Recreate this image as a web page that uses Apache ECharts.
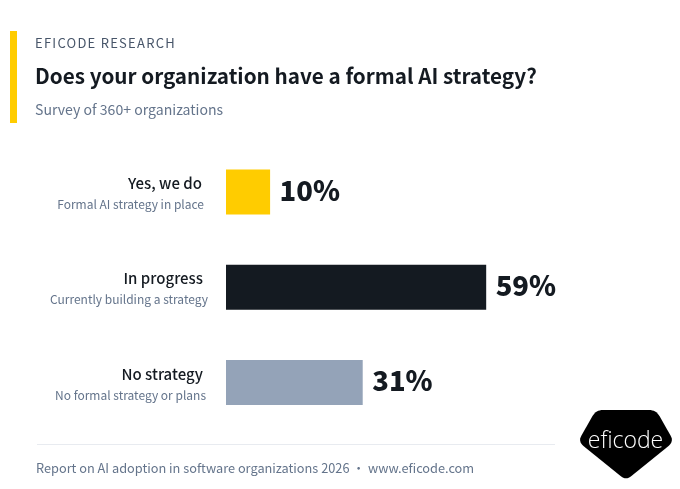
<!DOCTYPE html>
<html><head><meta charset="utf-8">
<style>html,body{margin:0;padding:0;background:#fff}#c{width:680px;height:489px}</style>
<script src="https://cdn.jsdelivr.net/npm/echarts@6/dist/echarts.min.js"></script>
</head><body><div id="c"></div>
<script>
const categories = ["Yes, we do", "In progress", "No strategy"];
const descriptions = ["Formal AI strategy in place", "Currently building a strategy", "No formal strategy or plans"];
const values = [10, 59, 31];
const barColors = ["#FFCC00", "#141A21", "#94A3B8"];
const eyebrow = "EFICODE RESEARCH";
const titleText = "Does your organization have a formal AI strategy?";
const subtitle = "Survey of 360+ organizations";
const footer = "Report on AI adoption in software organizations 2026 • www.eficode.com";
const logoText = "eficode";

// The eyebrow line is tracked out; the canvas context supports that natively.
const nativeFillText = CanvasRenderingContext2D.prototype.fillText;
CanvasRenderingContext2D.prototype.fillText = function (t, x, y, m) {
  const tracked = t === eyebrow;
  if (tracked) this.letterSpacing = '1.25px';
  const r = m === undefined ? nativeFillText.call(this, t, x, y) : nativeFillText.call(this, t, x, y, m);
  if (tracked) this.letterSpacing = '0px';
  return r;
};

// Logo outline: rounded pentagon built from its corner points.
function roundedOutline(corners, radius) {
  const out = [];
  corners.forEach((c, i) => {
    const p = corners[(i + corners.length - 1) % corners.length];
    const n = corners[(i + 1) % corners.length];
    const toward = (a, b) => {
      const d = Math.hypot(b[0] - a[0], b[1] - a[1]);
      return [a[0] + (b[0] - a[0]) * radius / d, a[1] + (b[1] - a[1]) * radius / d];
    };
    const s = toward(c, p), e = toward(c, n);
    for (let k = 0; k <= 8; k++) {
      const t = k / 8, u = 1 - t;
      out.push([u * u * s[0] + 2 * u * t * c[0] + t * t * e[0], u * u * s[1] + 2 * u * t * c[1] + t * t * e[1]]);
    }
  });
  return out;
}

const F = '"Noto Sans CJK SC","Noto Sans",sans-serif';
const subPad = [22, 18, 20];
const mainPad = [24, 23, 23];
const rich = {};
categories.forEach((_, i) => {
  rich['m' + i] = {fontFamily: F, fontSize: 15, fontWeight: 500, color: '#141A21', lineHeight: 22, padding: [3, mainPad[i], 0, 0], align: 'right'};
  rich['s' + i] = {fontFamily: F, fontSize: 12, color: '#64748B', lineHeight: 20, padding: [3, subPad[i], 0, 0], align: 'right'};
});

const chart = echarts.init(document.getElementById('c'), null, {renderer: 'canvas'});
chart.setOption({
  backgroundColor: '#fff',
  animation: false,
  grid: {left: 226, top: 144.4, width: 441, height: 285.75},
  xAxis: {type: 'value', min: 0, max: 100, show: false},
  yAxis: {
    type: 'category', inverse: true, data: categories,
    axisLine: {show: false}, axisTick: {show: false},
    axisLabel: {
      margin: 0, align: 'right',
      formatter: (v, i) => `{m${i}|${v}}\n{s${i}|${descriptions[i]}}`,
      rich
    }
  },
  series: [{
    type: 'bar', barWidth: 45,
    data: values.map((v, i) => ({value: v, itemStyle: {color: barColors[i]}})),
    label: {
      show: true, position: 'right', distance: 9.5, offset: [0, -1.5],
      formatter: '{c}%', fontFamily: F, fontSize: 27.4, fontWeight: 900, color: '#141A21'
    }
  }],
  graphic: [
    {type: 'rect', shape: {x: 10, y: 31, width: 7, height: 92}, style: {fill: '#FFCC00'}},
    {type: 'text', x: 35, y: 43, style: {text: eyebrow, fontFamily: F, fontSize: 13, fill: '#475569', textVerticalAlign: 'middle'}},
    {type: 'text', x: 35, y: 76, style: {text: titleText, fontFamily: F, fontSize: 20.7, fontWeight: 600, fill: '#141A21', textVerticalAlign: 'middle'}},
    {type: 'text', x: 35, y: 110, style: {text: subtitle, fontFamily: F, fontSize: 14.1, fill: '#64748B', textVerticalAlign: 'middle'}},
    {type: 'rect', shape: {x: 37, y: 444, width: 518, height: 1}, style: {fill: '#E8EBF0'}},
    {type: 'text', x: 36, y: 468, style: {text: footer, fontFamily: F, fontSize: 12.75, fill: '#64748B', textVerticalAlign: 'middle'}},
    {type: 'polygon', shape: {points: roundedOutline([[596, 410], [656, 410], [674, 441.5], [626, 480.5], [578, 441.5]], 7)},
      style: {fill: '#000'}},
    {type: 'text', x: 625.5, y: 441, style: {text: logoText, fontFamily: '"Open Sans",sans-serif', fontSize: 23, fontWeight: 300, fill: '#fff', textAlign: 'center', textVerticalAlign: 'middle'}}
  ]
});
</script></body></html>
